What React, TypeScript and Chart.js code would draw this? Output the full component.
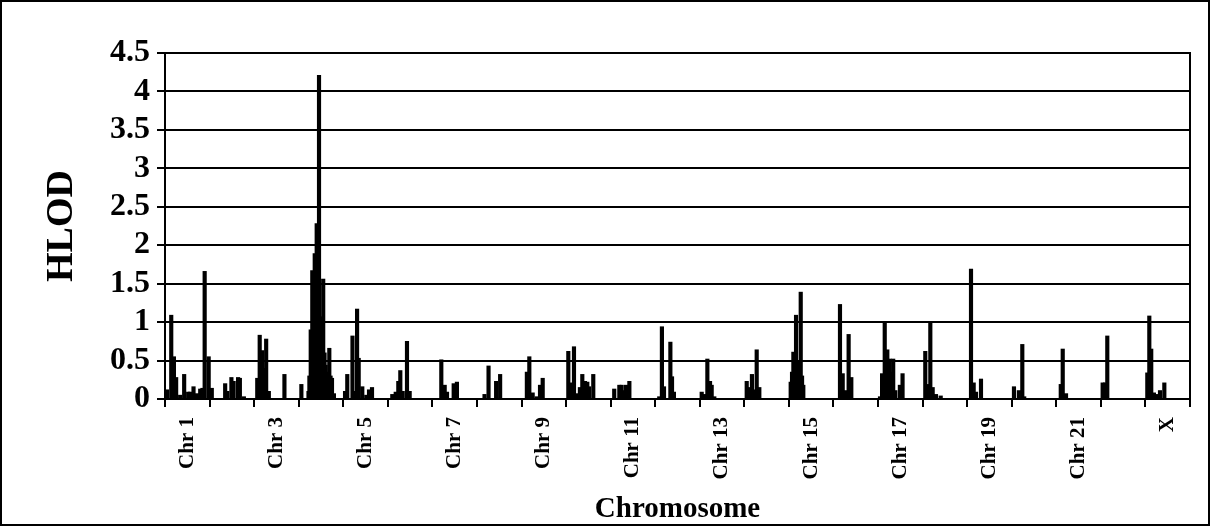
import React, { useEffect, useRef } from 'react';
import { Chart, registerables } from 'chart.js';

Chart.register(...registerables);

const chromosomeLabels = [
  'Chr 1', 'Chr 2', 'Chr 3', 'Chr 4', 'Chr 5', 'Chr 6', 'Chr 7', 'Chr 8', 'Chr 9', 'Chr 10',
  'Chr 11', 'Chr 12', 'Chr 13', 'Chr 14', 'Chr 15', 'Chr 16', 'Chr 17', 'Chr 18', 'Chr 19',
  'Chr 20', 'Chr 21', 'Chr 22', 'X',
];
const yTickValues = [0, 0.5, 1, 1.5, 2, 2.5, 3, 3.5, 4, 4.5];

// [position along chromosome (%), HLOD]
const chr1 = [[1.5, 0.1], [4.5, 0.12], [14, 1.09], [20, 0.55], [25, 0.28], [34, 0.05], [43, 0.32], [52, 0.09], [56, 0.09], [64, 0.16], [72, 0.07], [79, 0.13], [84, 0.14], [89, 1.66], [98, 0.55]];
const chr2 = [[5, 0.14], [35, 0.2], [40, 0.1], [49, 0.28], [54, 0.23], [64, 0.28], [68, 0.27], [77, 0.03]];
const chr3 = [[7, 0.27], [12.5, 0.83], [18, 0.63], [21.5, 0.4], [27, 0.78], [33, 0.1], [68, 0.32]];
const chr4 = [[6, 0.19], [22, 0.1], [24, 0.3], [27, 0.9], [30.5, 1.67], [33, 1.05], [36, 1.89], [38, 1.1], [40.4, 2.28], [43, 1.2], [45.6, 4.21], [48, 1.05], [50, 1.07], [52.5, 0.95], [55, 1.56], [58, 0.6], [60.6, 0.44], [63.5, 0.35], [68.7, 0.66], [71.5, 0.3], [74.7, 0.27], [79, 0.07]];
const chr5 = [[4, 0.1], [9, 0.32], [20.7, 0.82], [26, 0.1], [31, 1.17], [34.6, 0.53], [42.7, 0.16], [51.7, 0.05], [57.8, 0.12], [64.5, 0.15]];
const chr6 = [[10, 0.06], [17.7, 0.09], [23.5, 0.23], [28, 0.37], [33.4, 0.1], [43, 0.75], [49, 0.1]];
const chr7 = [[20, 0.51], [27.6, 0.18], [32.8, 0.09], [47.8, 0.2], [55, 0.22]];
const chr8 = [[17, 0.06], [26, 0.43], [43, 0.23], [52, 0.32]];
const chr9 = [[12, 0.35], [17.5, 0.55], [25, 0.08], [34, 0.03], [41.5, 0.18], [47.5, 0.27]];
const chr10 = [[5, 0.62], [10, 0.21], [17.7, 0.68], [23.8, 0.07], [31, 0.15], [36.4, 0.32], [42.4, 0.23], [47.6, 0.22], [51.4, 0.16], [61, 0.32]];
const chr11 = [[8, 0.13], [19.5, 0.18], [24.7, 0.18], [30, 0.11], [34.5, 0.18], [42, 0.23]];
const chr12 = [[9, 0.03], [15, 0.94], [19.7, 0.16], [34, 0.74], [37.7, 0.29], [42, 0.09]];
const chr13 = [[4.3, 0.09], [10, 0.06], [17, 0.52], [23, 0.23], [26.7, 0.18], [32.6, 0.03]];
const chr14 = [[5.3, 0.23], [11, 0.15], [17, 0.32], [22.4, 0.12], [27.7, 0.64], [33.6, 0.15]];
const chr15 = [[4, 0.22], [7, 0.35], [10, 0.61], [13, 0.4], [16, 1.09], [20.4, 0.5], [23.5, 0.4], [26.5, 1.39], [29.5, 0.3], [32.3, 0.18]];
const chr16 = [[14.6, 1.23], [20.7, 0.33], [26.5, 0.11], [34, 0.84], [40, 0.28]];
const chr17 = [[4.4, 0.03], [9, 0.33], [15, 1.01], [18, 0.4], [20.8, 0.64], [23.5, 0.45], [26, 0.52], [29.5, 0.35], [34, 0.52], [38.8, 0.11], [49, 0.18], [55, 0.33]];
const chr18 = [[6, 0.62], [12.8, 0.19], [17.3, 1.01], [22.6, 0.15], [30, 0.06], [40.6, 0.04]];
const chr19 = [[8.6, 1.69], [14.6, 0.21], [19.8, 0.09], [31, 0.26]];
const chr20 = [[5, 0.16], [16, 0.11], [23.7, 0.71], [28, 0.03]];
const chr21 = [[10, 0.19], [14.4, 0.65], [21.8, 0.07]];
const chr22 = [[4, 0.21], [9.3, 0.21], [14.4, 0.82]];
const chrX = [[4.2, 0.34], [8.7, 1.08], [13, 0.65], [19, 0.08], [26.6, 0.06], [32.7, 0.11], [42.4, 0.21]];

const chromosomes = [
  chr1, chr2, chr3, chr4, chr5, chr6, chr7, chr8, chr9, chr10, chr11, chr12,
  chr13, chr14, chr15, chr16, chr17, chr18, chr19, chr20, chr21, chr22, chrX,
];

const FONT = "'Liberation Serif', 'Times New Roman', serif";

export default function App() {
  const canvasRef = useRef<HTMLCanvasElement | null>(null);

  useEffect(() => {
    const canvas = canvasRef.current;
    if (!canvas) return;
    const points = chromosomes.flatMap((chr, i) =>
      chr.map(([pos, v]) => ({ x: i + pos / 100, y: v }))
    );
    const n = chromosomeLabels.length;
    const xTickValues: number[] = [];
    for (let k = 0; k <= 2 * n; k++) xTickValues.push(k / 2);

    const chart = new Chart(canvas, {
      type: 'bar',
      data: {
        datasets: [
          {
            data: points,
            backgroundColor: '#000',
            borderWidth: 0,
            barThickness: 3.5,
          },
        ],
      },
      options: {
        animation: false,
        responsive: false,
        maintainAspectRatio: false,
        events: [],
        layout: { padding: { left: 0, right: 20, top: 53, bottom: 0 } },
        plugins: { legend: { display: false }, tooltip: { enabled: false } },
        scales: {
          x: {
            type: 'linear',
            position: 'bottom',
            offset: false,
            min: 0,
            max: n,
            afterBuildTicks: (scale: any) => {
              scale.ticks = xTickValues.map((v) => ({ value: v }));
            },
            afterFit: (scale: any) => {
              scale.height = 127;
              scale.paddingLeft = 0;
              scale.paddingRight = 0;
            },
            grid: {
              offset: false,
              drawOnChartArea: false,
              drawTicks: true,
              tickLength: 8,
              lineWidth: 2,
              color: (ctx: any) =>
                ctx.tick && Number.isInteger(ctx.tick.value) ? '#000' : 'rgba(0,0,0,0)',
            },
            border: { display: true, color: '#000', width: 2 },
            ticks: {
              autoSkip: false,
              minRotation: 90,
              maxRotation: 90,
              padding: 10,
              color: '#000',
              font: { family: FONT, size: 21, weight: 'bold' },
              callback: (value: any) => {
                const v = Number(value);
                if (Number.isInteger(v)) return '';
                const idx = Math.round(v - 0.5);
                return idx % 2 === 0 ? chromosomeLabels[idx] : '';
              },
            },
            title: {
              display: true,
              text: 'Chromosome',
              color: '#000',
              font: { family: FONT, size: 29, weight: 'bold', lineHeight: 1 },
              padding: { top: 0, bottom: 2 },
            },
          },
          y: {
            type: 'linear',
            position: 'left',
            min: 0,
            max: 4.5,
            afterBuildTicks: (scale: any) => {
              scale.ticks = yTickValues.map((v) => ({ value: v }));
            },
            afterFit: (scale: any) => {
              scale.width = 165;
            },
            grid: {
              drawOnChartArea: true,
              drawTicks: true,
              tickLength: 8,
              lineWidth: 2,
              color: '#000',
            },
            border: { display: true, color: '#000', width: 2 },
            ticks: {
              autoSkip: false,
              padding: 7,
              color: '#000',
              font: { family: FONT, size: 32, weight: 'bold' },
              callback: (value: any) => String(Number(value)),
            },
            title: {
              display: true,
              text: 'HLOD',
              color: '#000',
              font: { family: FONT, size: 38, weight: 'bold', lineHeight: 1 },
              padding: { top: 43, bottom: 0 },
            },
          },
          y2: {
            type: 'linear',
            position: 'right',
            min: 0,
            max: 4.5,
            afterFit: (scale: any) => {
              scale.width = 0;
            },
            grid: { drawOnChartArea: false, drawTicks: false },
            border: { display: true, color: '#000', width: 2 },
            ticks: { display: false },
          },
        },
      },
    });
    return () => chart.destroy();
  }, []);

  return (
    <div
      style={{
        position: 'fixed',
        left: 0,
        top: 0,
        width: 1210,
        height: 526,
        boxSizing: 'border-box',
        border: '2px solid #000',
        background: '#fff',
      }}
    >
      <canvas
        ref={canvasRef}
        width={1210}
        height={526}
        style={{ position: 'absolute', left: -2, top: -2, width: 1210, height: 526 }}
      />
    </div>
  );
}
